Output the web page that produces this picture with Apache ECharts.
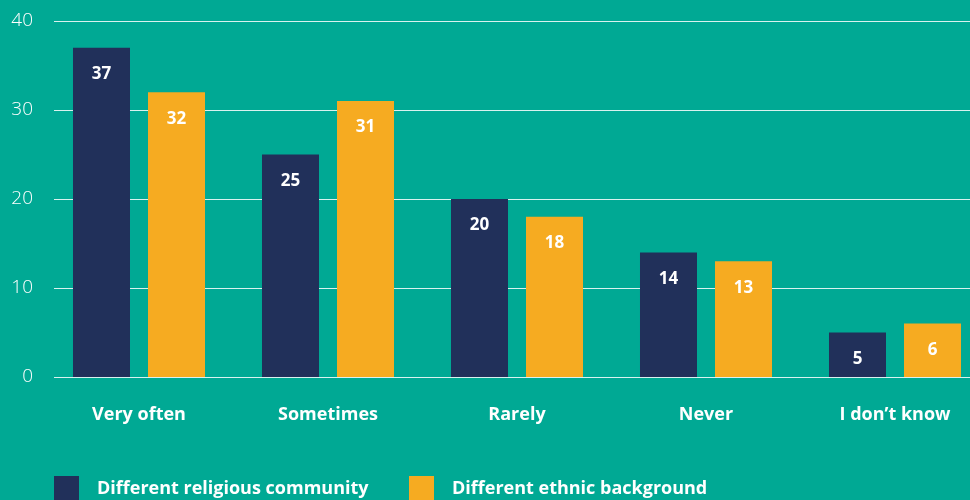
<!DOCTYPE html>
<html>
<head>
<meta charset="utf-8">
<script src="https://cdn.jsdelivr.net/npm/echarts@6/dist/echarts.min.js"></script>
<style>
  html, body { margin: 0; padding: 0; background: #00A994; }
  #chart { width: 970px; height: 500px; }
</style>
</head>
<body>
<div id="chart"></div>
<script>
// Answer categories and percentages per group
const categories = ['Very often', 'Sometimes', 'Rarely', 'Never', 'I don\u2019t know'];
const religiousValues = [37, 25, 20, 14, 5];
const ethnicValues = [32, 31, 18, 13, 6];
const seriesNames = ['Different religious community', 'Different ethnic background'];
const yTicks = { min: 0, max: 40, interval: 10 };

const FONT = '"Open Sans", Lato, sans-serif';
const NAVY = '#21305A';
const ORANGE = '#F6AB21';

const chart = echarts.init(document.getElementById('chart'));

const valueLabel = {
  show: true,
  position: 'insideTop',
  distance: 18,
  color: '#ffffff',
  fontFamily: FONT,
  fontWeight: 'bold',
  fontSize: 17
};

const legendText = {
  color: '#ffffff', fontFamily: FONT, fontWeight: 'bold', fontSize: 18, padding: [9, 0, 0, 13]
};

chart.setOption({
  backgroundColor: '#00A994',
  animation: false,
  grid: [
    // gridlines and y labels
    { left: 54, width: 916, top: 21, height: 356, outerBoundsMode: 'none' },
    // bars and category labels (last category runs past the right edge)
    { left: 44.5, width: 945, top: 21, height: 356, outerBoundsMode: 'none' }
  ],
  legend: [
    {
      data: [seriesNames[0]],
      left: 54, top: 476, padding: 0,
      itemWidth: 25, itemHeight: 25,
      icon: 'rect',
      textStyle: legendText
    },
    {
      data: [seriesNames[1]],
      left: 409, top: 476, padding: 0,
      itemWidth: 25, itemHeight: 25,
      icon: 'rect',
      textStyle: legendText
    }
  ],
  xAxis: [
    { type: 'category', gridIndex: 0, data: categories, show: false },
    {
      type: 'category', gridIndex: 1, data: categories,
      axisLine: { show: false },
      axisTick: { show: false },
      axisLabel: {
        color: '#ffffff', fontFamily: FONT, fontWeight: 'bold', fontSize: 18, margin: 29
      }
    }
  ],
  yAxis: [
    {
      type: 'value', gridIndex: 0,
      min: yTicks.min, max: yTicks.max, interval: yTicks.interval,
      axisLine: { show: false },
      axisTick: { show: false },
      axisLabel: { color: '#ffffff', fontFamily: FONT, fontWeight: 300, fontSize: 19, margin: 21 },
      splitLine: { lineStyle: { color: 'rgba(255,255,255,0.85)', width: 1 } }
    },
    {
      type: 'value', gridIndex: 1,
      min: yTicks.min, max: yTicks.max, interval: yTicks.interval,
      show: false,
      splitLine: { show: false }
    }
  ],
  series: [
    {
      name: seriesNames[0],
      type: 'bar',
      xAxisIndex: 1, yAxisIndex: 1,
      data: religiousValues,
      barWidth: 57,
      barGap: '31.6%',
      itemStyle: { color: NAVY },
      label: valueLabel
    },
    {
      name: seriesNames[1],
      type: 'bar',
      xAxisIndex: 1, yAxisIndex: 1,
      data: ethnicValues,
      barWidth: 57,
      barGap: '31.6%',
      itemStyle: { color: ORANGE },
      label: valueLabel
    }
  ]
});
</script>
</body>
</html>
